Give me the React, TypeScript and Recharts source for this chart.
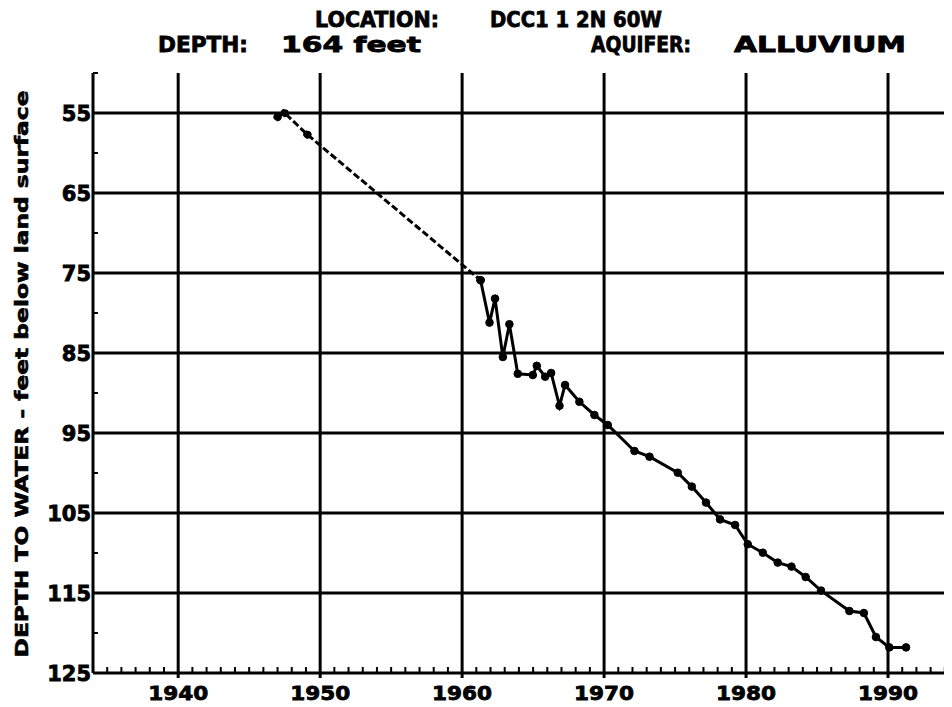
import React from 'react';
import { LineChart, Line, XAxis, YAxis, ReferenceLine } from 'recharts';

// Early record (dashed connection, sparse measurements)
const earlyYears = [1947.0, 1947.5, 1949.1, 1961.3];
const earlyDepths = [55.5, 55.0, 57.7, 75.9];

// Later record (solid line)
const lateYears = [
  1961.3, 1961.93, 1962.32, 1962.87, 1963.33, 1963.92, 1964.98, 1965.26, 1965.85, 1966.27,
  1966.86, 1967.25, 1968.26, 1969.32, 1970.26, 1972.14, 1973.2, 1975.19, 1976.18, 1977.18,
  1978.17, 1979.23, 1980.12, 1981.18, 1982.23, 1983.2, 1984.2, 1985.28, 1987.28, 1988.3,
  1989.15, 1990.09, 1991.27,
];
const lateDepths = [
  75.9, 81.2, 78.2, 85.5, 81.4, 87.6, 87.75, 86.6, 87.96, 87.5,
  91.6, 89.0, 91.1, 92.75, 94.0, 97.25, 97.96, 99.96, 101.7, 103.7,
  105.8, 106.5, 108.9, 109.96, 111.2, 111.7, 113.0, 114.7, 117.25, 117.5,
  120.5, 121.8, 121.8,
];

const decadeTicks = [1940, 1950, 1960, 1970, 1980, 1990];
const depthTicks = [55, 65, 75, 85, 95, 105, 115, 125];
const depthGrid = [55, 65, 75, 85, 95, 105, 115];
const depthMinorTicks = [50, 60, 70, 80, 90, 100, 110, 120];
const yearDomain = [1934, 1995];
const depthDomain = [50, 125];

const titleRow1 = ['LOCATION:', 'DCC1 1 2N 60W'];
const titleRow2 = ['DEPTH:', '164 feet', 'AQUIFER:', 'ALLUVIUM'];
const yLabel = 'DEPTH TO WATER - feet below land surface';

const earlyData = earlyYears.map((y, i) => ({ year: y, depth: earlyDepths[i] }));
const lateData = lateYears.map((y, i) => ({ year: y, depth: lateDepths[i] }));
const allYearTicks: number[] = [];
for (let y = yearDomain[0]; y <= yearDomain[1]; y++) allYearTicks.push(y);
const allDepthTicks = [...depthMinorTicks, ...depthTicks].sort((a, b) => a - b);

const FONT = '"DejaVu Sans", sans-serif';

const BottomTick = (props: any) => {
  const { x, y, payload } = props;
  const v = payload.value;
  const major = decadeTicks.includes(v);
  return (
    <g>
      {major ? (
        <line x1={x} x2={x} y1={y} y2={y + 5} stroke="#000" strokeWidth={3} />
      ) : (
        <line x1={x} x2={x} y1={y} y2={y - 6} stroke="#000" strokeWidth={2} />
      )}
      {major && (
        <text
          x={x}
          y={y + 27}
          textAnchor="middle"
          fontFamily={FONT}
          fontWeight="bold"
          fontSize={20}
          fill="#000"
          stroke="#000"
          strokeWidth={0.8}
          textLength={60}
          lengthAdjust="spacingAndGlyphs"
        >
          {v}
        </text>
      )}
    </g>
  );
};

const TopTick = (props: any) => {
  const { x, y, payload } = props;
  const major = decadeTicks.includes(payload.value);
  if (major) return <g />;
  return <line x1={x} x2={x} y1={y} y2={y + 6} stroke="#000" strokeWidth={2} />;
};

const LeftTick = (props: any) => {
  const { x, y, payload } = props;
  const v = payload.value;
  const major = depthTicks.includes(v);
  return (
    <g>
      {!major && <line x1={x} x2={x + 5} y1={y} y2={y} stroke="#000" strokeWidth={2} />}
      {major && (
        <text
          x={x - 2}
          y={y + 8}
          textAnchor="end"
          fontFamily={FONT}
          fontWeight="bold"
          fontSize={21}
          fill="#000"
          stroke="#000"
          strokeWidth={0.8}
        >
          {v}
        </text>
      )}
    </g>
  );
};

export default function App() {
  return (
    <div style={{ position: 'relative', width: 944, height: 699, overflow: 'hidden', background: '#fff' }}>
      <LineChart width={961} height={699} margin={{ top: 65, right: 10, bottom: 0, left: 0 }}>
        <XAxis
          xAxisId="b"
          type="number"
          dataKey="year"
          domain={yearDomain}
          ticks={allYearTicks}
          interval={0}
          allowDataOverflow
          height={34}
          tickSize={0}
          tickMargin={0}
          tickLine={false}
          axisLine={{ stroke: '#000', strokeWidth: 3 }}
          tick={BottomTick}
        />
        <XAxis
          xAxisId="t"
          orientation="top"
          type="number"
          dataKey="year"
          domain={yearDomain}
          ticks={allYearTicks}
          interval={0}
          allowDataOverflow
          height={0}
          tickSize={0}
          tickMargin={0}
          tickLine={false}
          axisLine={{ stroke: '#000', strokeWidth: 2 }}
          tick={TopTick}
        />
        <YAxis
          yAxisId="d"
          type="number"
          domain={depthDomain}
          reversed
          ticks={allDepthTicks}
          interval={0}
          allowDataOverflow
          width={85}
          tickSize={0}
          tickMargin={0}
          tickLine={false}
          axisLine={{ stroke: '#000', strokeWidth: 3 }}
          tick={LeftTick}
        />
        {decadeTicks.map((d) => (
          <ReferenceLine key={'x' + d} xAxisId="b" yAxisId="d" x={d} stroke="#000" strokeWidth={3} />
        ))}
        {depthGrid.map((d) => (
          <ReferenceLine key={'y' + d} xAxisId="b" yAxisId="d" y={d} stroke="#000" strokeWidth={3} />
        ))}
        <Line
          xAxisId="b"
          yAxisId="d"
          data={earlyData}
          dataKey="depth"
          stroke="#000"
          strokeWidth={3}
          strokeDasharray="7 3"
          dot={{ r: 3.8, fill: '#000', stroke: '#000', strokeWidth: 1 }}
          isAnimationActive={false}
        />
        <Line
          xAxisId="b"
          yAxisId="d"
          data={lateData}
          dataKey="depth"
          stroke="#000"
          strokeWidth={3}
          dot={{ r: 3.8, fill: '#000', stroke: '#000', strokeWidth: 1 }}
          isAnimationActive={false}
        />
      </LineChart>
      <svg
        width={944}
        height={699}
        style={{ position: 'absolute', left: 0, top: 0, pointerEvents: 'none' }}
      >
        <g fontFamily={FONT} fontWeight="bold" fill="#000" stroke="#000" strokeWidth={0.8}>
          <text x={307} y={19} fontSize={21} textLength={124} lengthAdjust="spacingAndGlyphs">{titleRow1[0]}</text>
          <text x={482} y={19} fontSize={21} textLength={172} lengthAdjust="spacingAndGlyphs">{titleRow1[1]}</text>
          <text x={150} y={44} fontSize={21} textLength={90} lengthAdjust="spacingAndGlyphs">{titleRow2[0]}</text>
          <text x={273} y={44} fontSize={21} textLength={140} lengthAdjust="spacingAndGlyphs">{titleRow2[1]}</text>
          <text x={583} y={44} fontSize={21} textLength={100} lengthAdjust="spacingAndGlyphs">{titleRow2[2]}</text>
          <text x={726} y={44} fontSize={21} textLength={172} lengthAdjust="spacingAndGlyphs">{titleRow2[3]}</text>
          <text
            transform="translate(20, 366) rotate(-90)"
            x={0}
            y={0}
            textAnchor="middle"
            fontSize={17}
            strokeWidth={0.6}
            textLength={567}
            lengthAdjust="spacingAndGlyphs"
          >
            {yLabel}
          </text>
        </g>
      </svg>
    </div>
  );
}
